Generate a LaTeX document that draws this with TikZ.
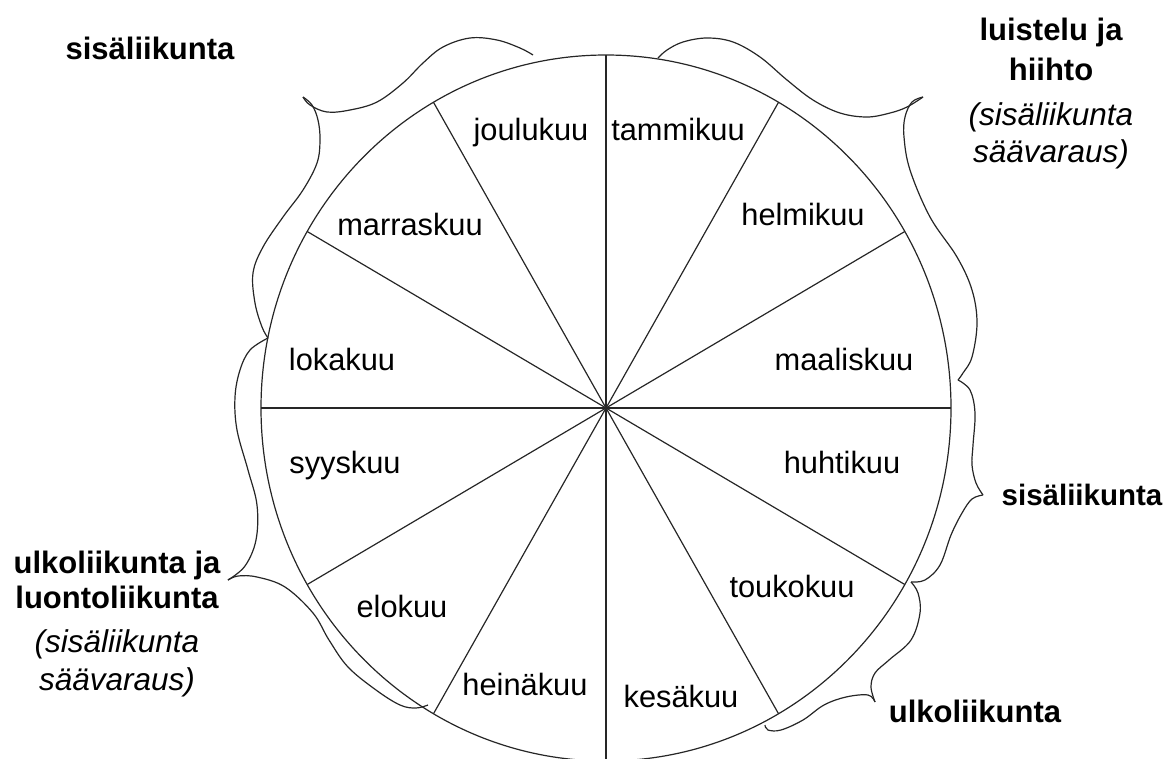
\documentclass[tikz,border=0pt]{standalone}
\usepackage{fontspec}
\setmainfont{Liberation Sans}
\begin{document}
\begin{tikzpicture}[x=1pt,y=-1pt,
  month/.style={font=\fontsize{30.8}{36}\selectfont, inner sep=0pt, anchor=base},
  lbl/.style={font=\fontsize{31}{36}\selectfont\bfseries, inner sep=0pt, anchor=base},
  lblit/.style={font=\fontsize{31.5}{36}\selectfont\itshape, inner sep=0pt, anchor=base},
  brace/.style={draw=black!85, line width=1.2pt},
  spoke/.style={draw=black!85, line width=1.2pt}]
\useasboundingbox (0,0) rectangle (1167,758);
\clip (0,0) rectangle (1167,758);
\coordinate (c) at (606,408);
\draw[spoke] (c) ellipse [x radius=345pt, y radius=353pt];
\foreach \a in {0,30,...,330} \draw[spoke] (c) -- ++(\a:345pt and 353pt) coordinate (s\a);

% month labels
\node[month] (jan) at (678,140) {tammikuu};
\node[month] (feb) at (803,225) {helmikuu};
\node[month] (mar) at (844,370) {maaliskuu};
\node[month] (apr) at (842,473) {huhtikuu};
\node[month] (may) at (792,597) {toukokuu};
\node[month] (jun) at (681,707) {kesäkuu};
\node[month] (jul) at (525,695) {heinäkuu};
\node[month] (aug) at (402,617) {elokuu};
\node[month] (sep) at (345,473) {syyskuu};
\node[month] (oct) at (342,370) {lokakuu};
\node[month] (nov) at (410,235) {marraskuu};
\node[month] (dec) at (531,140) {joulukuu};

% brace A (top left)
\draw[brace] plot[smooth, tension=0.6] coordinates {(303,97) (310,105) (327,112) (350,110) (377,102) (403,83) (423,63) (443,47) (470,38) (497,40) (520,48) (533,55)};
\draw[brace] plot[smooth, tension=0.6] coordinates {(303,97) (312,105) (318,120) (320,140) (317,163) (303,190) (283,217) (263,247) (253,273) (255,303) (262,327) (268,338)};
% brace E (left bottom)
\draw[brace] plot[smooth, tension=0.6] coordinates {(268,338) (250,350) (240,370) (235,397) (237,430) (248,470) (257,505) (256,540) (245,566) (228,580)};
\draw[brace] plot[smooth, tension=0.6] coordinates {(228,580) (238,576) (257,577) (285,587) (313,613) (329,640) (348,667) (376,690) (400,705) (416,708) (428,705)};
% brace B (top right)
\draw[brace] plot[smooth, tension=0.6] coordinates {(658,58) (667,50) (683,42) (707,38) (733,42) (760,57) (787,80) (813,100) (840,113) (867,117) (890,113) (907,107) (923,97)};
\draw[brace] plot[smooth, tension=0.6] coordinates {(923,97) (912,102) (905,117) (904,137) (910,170) (930,217) (957,257) (972,290) (977,323) (972,357) (963,373) (958,380)};
% brace C (right)
\draw[brace] plot[smooth, tension=0.6] coordinates {(958,380) (970,390) (975,413) (973,445) (972,465) (976,483) (983,495)};
\draw[brace] plot[smooth, tension=0.6] coordinates {(983,495) (972,499) (962,513) (951,535) (940,565) (925,580) (911,582)};
% brace D (bottom right)
\draw[brace] plot[smooth, tension=0.6] coordinates {(911,582) (918,593) (920,613) (911,640) (889,660) (875,673) (871,687) (875,702)};
\draw[brace] plot[smooth, tension=0.6] coordinates {(875,702) (868,695) (846,697) (824,705) (803,720) (781,730) (768,730) (765,725)};

% brace labels
\node[lbl] (tl) at (150,59) {sisäliikunta};
\node[lbl] (tr1) at (1051,40) {luistelu ja};
\node[lbl] (tr2) at (1051,80) {hiihto};
\node[lblit] (tr3) at (1051,125) {(sisäliikunta};
\node[lblit] (tr4) at (1051,162) {säävaraus)};
\node[lbl, font=\fontsize{29.5}{36}\selectfont\bfseries] (rt) at (1082,505) {sisäliikunta};
\node[lbl] (br) at (975,722) {ulkoliikunta};
\node[lbl] (bl1) at (117,573) {ulkoliikunta ja};
\node[lbl] (bl2) at (117,608) {luontoliikunta};
\node[lblit] (bl3) at (117,652) {(sisäliikunta};
\node[lblit] (bl4) at (117,690) {säävaraus)};
\end{tikzpicture}
\end{document}
